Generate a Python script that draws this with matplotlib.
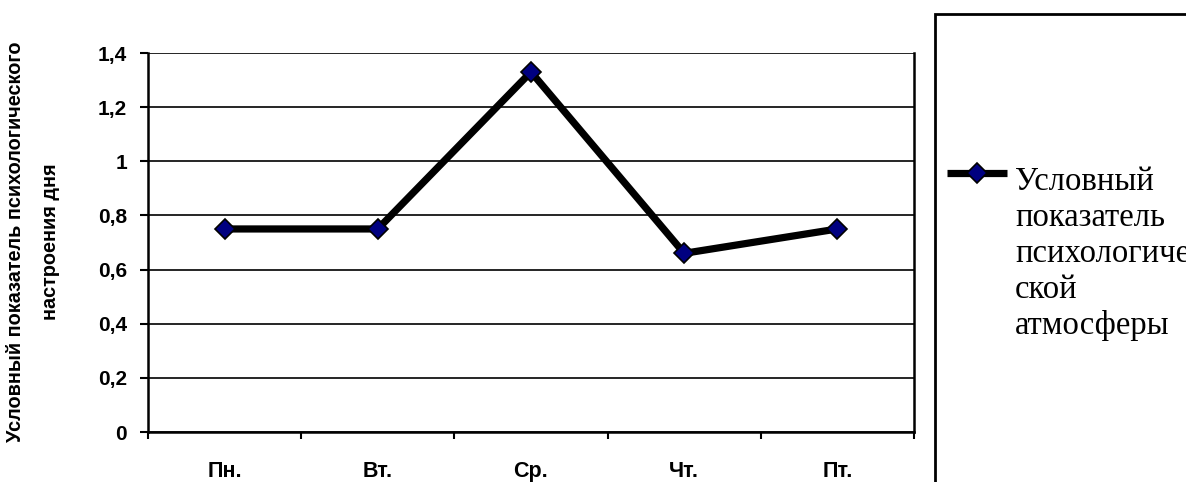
import matplotlib
matplotlib.use("Agg")
import matplotlib.pyplot as plt
from matplotlib.lines import Line2D
from matplotlib.patches import Rectangle
from matplotlib.ticker import FuncFormatter

categories = ["Пн.", "Вт.", "Ср.", "Чт.", "Пт."]
values = [0.75, 0.75, 1.33, 0.66, 0.75]
y_ticks = [0, 0.2, 0.4, 0.6, 0.8, 1.0, 1.2, 1.4]
y_label = "Условный показатель психологического\nнастроения дня"
legend_label = "Условный\nпоказатель\nпсихологиче\nской\nатмосферы"

W, H = 1186, 482
fig = plt.figure(figsize=(W / 100, H / 100), dpi=100)
ax = fig.add_axes([148 / W, 1 - 432 / H, (914 - 148) / W, (432 - 53) / H])

x = list(range(len(categories)))
ax.plot(x, values, color="black", lw=5.2, marker="D", markersize=10,
        markerfacecolor="#000080", markeredgecolor="black", markeredgewidth=1.2,
        zorder=3, clip_on=False)

ax.set_xlim(-0.5, len(categories) - 0.5)
ax.set_ylim(0, 1.4)
ax.set_yticks(y_ticks)
ax.yaxis.set_major_formatter(FuncFormatter(
    lambda v, p: ("%g" % round(v, 1)).replace(".", ",")))
ax.set_xticks(x)
ax.set_xticklabels(categories, fontfamily="Liberation Sans", fontweight="bold", fontsize=15.5)
ax.set_xticks([i - 0.5 for i in range(len(categories) + 1)], minor=True)
ax.tick_params(axis="x", which="major", length=0, pad=21)
ax.tick_params(axis="x", which="minor", length=5, width=1.5, direction="out")
ax.tick_params(axis="y", length=6, width=1.5, direction="out", pad=9,
               labelsize=15)
for lab in ax.get_yticklabels():
    lab.set_fontfamily("Liberation Sans")
    lab.set_fontweight("bold")

ax.grid(axis="y", color="black", lw=1.2)
ax.set_axisbelow(True)
ax.spines["top"].set_visible(False)
for s in ["left", "bottom", "right"]:
    ax.spines[s].set_linewidth(1.8)

fig.text(33 / W, 1 - 242 / H, y_label, rotation=90, ha="center", va="center",
         fontfamily="Liberation Sans", fontweight="bold", fontsize=14.3,
         linespacing=2.0, multialignment="center")

# legend box
fig.add_artist(Rectangle((935 / W, -0.1), 0.3, 1.1 - 14 / H, transform=fig.transFigure,
                         fill=False, edgecolor="black", lw=2))
fig.add_artist(Line2D([947 / W, 1007 / W], [1 - 173 / H, 1 - 173 / H],
                      transform=fig.transFigure, color="black", lw=5.2,
                      solid_capstyle="butt"))
fig.add_artist(Line2D([977 / W], [1 - 173 / H], transform=fig.transFigure,
                      marker="D", markersize=10, markerfacecolor="#000080",
                      markeredgecolor="black", markeredgewidth=1.2, lw=0))
fig.text(1015 / W, 1 - 167 / H, legend_label, ha="left", va="top",
         fontfamily="Liberation Serif", fontsize=23.5, linespacing=1.22)

fig.savefig("out.png", dpi=100, facecolor="white")
